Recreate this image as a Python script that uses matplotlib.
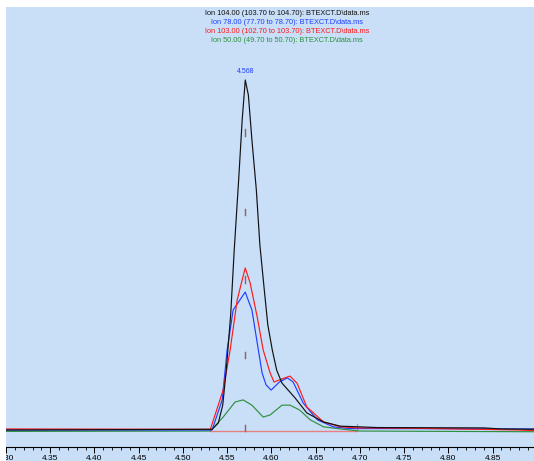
import matplotlib
matplotlib.use("Agg")
import matplotlib.pyplot as plt
from matplotlib.patches import Rectangle

# ---------------- data ----------------
titles = [
    "Ion 104.00 (103.70 to 104.70): BTEXCT.D\\data.ms",
    "Ion 78.00 (77.70 to 78.70): BTEXCT.D\\data.ms",
    "Ion 103.00 (102.70 to 103.70): BTEXCT.D\\data.ms",
    "Ion 50.00 (49.70 to 50.70): BTEXCT.D\\data.ms",
]

t_black = [4.300, 4.533, 4.540, 4.545, 4.549, 4.554, 4.558, 4.563, 4.567, 4.5705,
           4.574, 4.578, 4.583, 4.587, 4.592, 4.596, 4.601, 4.606, 4.612, 4.627,
           4.640, 4.659, 4.678, 4.700, 4.720, 4.840, 4.860, 4.900]
v_black = [0.0, 0.2, 2.0, 7.1, 17.1, 32.9, 51.4, 71.4, 88.6, 100.0,
           95.7, 82.9, 68.6, 52.9, 40.0, 30.0, 22.9, 17.1, 13.4, 9.1,
           4.9, 2.3, 1.1, 0.9, 0.7, 0.6, 0.3, 0.2]

t_blue = [4.300, 4.533, 4.5444, 4.550, 4.5568, 4.5704, 4.578, 4.584, 4.5895, 4.594,
          4.5997, 4.609, 4.618, 4.6246, 4.636, 4.652, 4.670, 4.689, 4.760, 4.880, 4.900]
v_blue = [0.0, 0.0, 8.6, 22.9, 34.3, 39.4, 34.3, 24.9, 16.3, 12.9,
          11.4, 13.7, 14.9, 13.7, 7.7, 2.9, 0.9, 0.4, 0.4, 0.3, 0.3]

t_red = [4.300, 4.531, 4.5455, 4.5534, 4.5613, 4.5704, 4.576, 4.584, 4.5907, 4.5986,
         4.603, 4.612, 4.621, 4.629, 4.640, 4.659, 4.678, 4.697, 4.760, 4.880, 4.900]
v_red = [0.3, 0.2, 11.4, 22.9, 37.1, 46.3, 42.0, 32.3, 22.9, 16.3,
         13.7, 14.6, 15.4, 13.4, 6.6, 2.3, 0.9, 0.6, 0.5, 0.0, -0.2]

t_green = [4.300, 4.531, 4.5455, 4.559, 4.568, 4.578, 4.5907, 4.5986, 4.612, 4.621,
           4.632, 4.644, 4.659, 4.678, 4.700, 4.900]
v_green = [-0.4, -0.3, 3.7, 8.0, 8.6, 7.1, 3.7, 4.3, 7.1, 7.1,
           5.7, 2.9, 0.9, 0.3, -0.3, -0.5]

# integration baseline and markers
base_t = [4.531, 4.697]
base_v = [-0.3, -0.3]
peak_time = 4.5705
peak_label = "4.568"
marker_levels = [0.5, 21.4, 43.0, 62.3, 85.0]

xticks = [4.30, 4.35, 4.40, 4.45, 4.50, 4.55, 4.60, 4.65, 4.70, 4.75, 4.80, 4.85]

# ---------------- figure ----------------
W, H = 534, 461
fig = plt.figure(figsize=(W / 100, H / 100), dpi=100, facecolor="white")
bg = "#c9dff8"
fig.patches.append(Rectangle((6 / W, 0), (W - 6) / W, (H - 7) / H,
                             transform=fig.transFigure, facecolor=bg,
                             edgecolor="none", zorder=-5))

ax = fig.add_axes([6 / W, 14 / H, (W - 6) / W, 440 / H])
ax.set_zorder(1)
ax.set_facecolor("none")
ax.set_xlim(4.3003, 4.8969)
ax.set_ylim(-4.857, 120.86)

lw = 0.85
ax.plot(t_green, v_green, color="#2f8f3f", lw=lw, zorder=3)
ax.plot(t_blue, v_blue, color="#1f3fff", lw=lw, zorder=4)
ax.plot(t_red, v_red, color="#ff1a1a", lw=lw, zorder=4)
ax.plot(t_black, v_black, color="#111111", lw=lw, zorder=5)

ax.plot(base_t, base_v, color="#e58080", lw=1.0, zorder=2)
ax.plot([base_t[1], base_t[1]], [base_v[1], 1.6], color="#e58080", lw=0.8, zorder=2)

for m in marker_levels:
    ax.plot([peak_time, peak_time], [m - 0.9, m + 0.9], color="#a05a5a", lw=1.0, zorder=6)

ax.text(peak_time, 101.5, peak_label, color="#1f3fff", fontsize=5,
        ha="center", va="bottom", family="Liberation Sans")

for s in ["left", "right", "top"]:
    ax.spines[s].set_visible(False)
ax.spines["bottom"].set_linewidth(0.8)
ax.set_yticks([])
ax.set_xticks(xticks)
ax.set_xticklabels([f"{x:.2f}" for x in xticks], fontsize=6, family="Liberation Sans")
ax.set_xticks([4.30 + 0.01 * i for i in range(60)], minor=True)
ax.tick_params(axis="x", which="major", direction="out", length=4, width=0.7, pad=1.5)
ax.tick_params(axis="x", which="minor", direction="out", length=2.5, width=0.6)

colors = ["#111111", "#1f3fff", "#ff1a1a", "#2f8f3f"]
ys = [13.3, 22.3, 31.7, 41.0]
for txt, c, y in zip(titles, colors, ys):
    fig.text(287 / W, 1 - y / H, txt, color=c, fontsize=5.3, ha="center",
             va="center", family="Liberation Sans")

# white margin strip on the left, as in the reference crop
fig.add_artist(Rectangle((0, 0), 6 / W, 1, transform=fig.transFigure,
                         facecolor="white", edgecolor="none", zorder=10))

fig.savefig("out.png", dpi=100, facecolor="white")
